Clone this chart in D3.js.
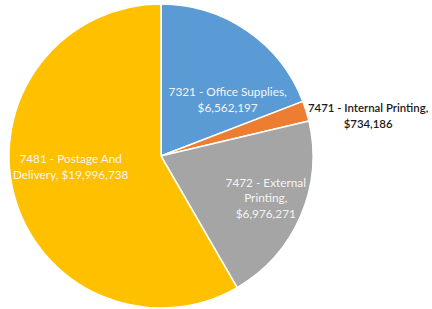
<!DOCTYPE html>
<html><head><meta charset="utf-8">
<script src="https://cdn.jsdelivr.net/npm/d3@7"></script>
<style>html,body{margin:0;padding:0;background:#fff;}svg{display:block;}</style>
</head><body>
<svg id="c" width="432" height="309"></svg>
<script>
const categories = ["7321 - Office Supplies", "7471 - Internal Printing", "7472 - External Printing", "7481 - Postage And Delivery"];
const values = [6562197, 734186, 6976271, 19996738];
const colors = ["#5B9BD5", "#ED7D31", "#A5A5A5", "#FFC000"];
// label line breaks (text only)
const labelLines = [
  ["7321 - Office Supplies,", "$6,562,197"],
  ["7471 - Internal Printing,", "$734,186"],
  ["7472 - External", "Printing,", "$6,976,271"],
  ["7481 - Postage And", "Delivery, $19,996,738"]
];
// label placement: angle (deg from 12 o'clock), radius, inside?
const labelPos = [
  {a: 50, r: 87, inside: true},
  {a: 79, r: 211, inside: false},
  {a: 112, r: 113, inside: true},
  {a: 263, r: 91, inside: true}
];

const svg = d3.select("#c");
const cx = 161, cy = 156, R = 152;
const g = svg.append("g").attr("transform", `translate(${cx},${cy})`);
const pie = d3.pie().sort(null).value(d => d)(values);
const arc = d3.arc().innerRadius(0).outerRadius(R);
g.selectAll("path").data(pie).join("path")
  .attr("d", arc)
  .attr("fill", (d, i) => colors[i])
  .attr("stroke", "#fff").attr("stroke-width", 1.5).attr("stroke-linejoin", "round");

const lh = 15.5;
labelPos.forEach((p, i) => {
  const a = p.a * Math.PI / 180;
  const x = Math.sin(a) * p.r, y = -Math.cos(a) * p.r;
  const lines = labelLines[i];
  const t = g.append("text")
    .attr("text-anchor", "middle")
    .attr("font-family", "Lato, 'Open Sans', sans-serif")
    .attr("font-size", p.inside ? 11.8 : 11.4)
    .attr("fill", p.inside ? "#F4F4F4" : "#1a1a1a")
    .attr("font-weight", p.inside ? 400 : 600);
  lines.forEach((s, j) => {
    t.append("tspan").attr("x", x).attr("y", y + (j - (lines.length - 1) / 2) * lh + 4).text(s);
  });
});
</script>
</body></html>
